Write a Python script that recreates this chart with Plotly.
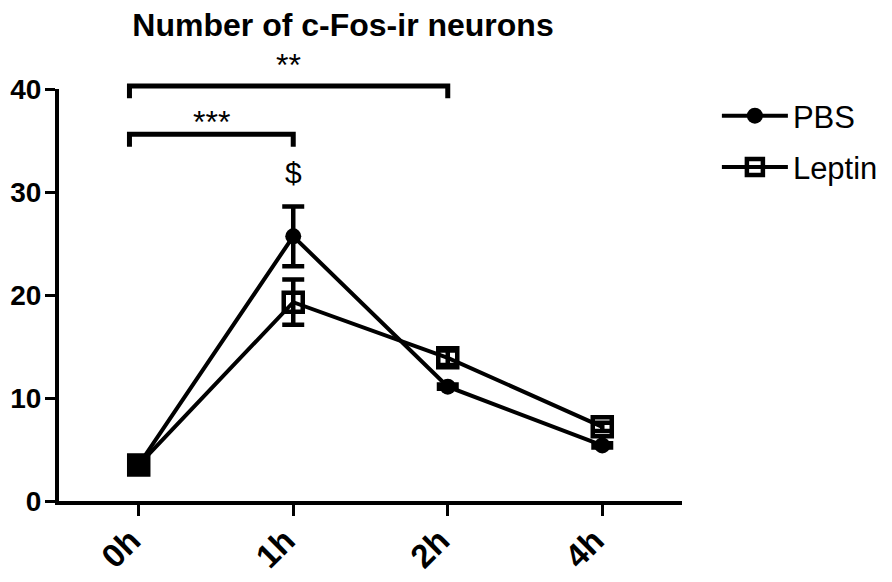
import plotly.graph_objects as go

time_labels = ['0h', '1h', '2h', '4h']
pbs_mean = [3.5, 25.7, 11.1, 5.4]
pbs_err = [0.4, 2.9, 0.2, 0.2]
leptin_mean = [3.5, 19.3, 13.9, 7.2]
leptin_err = [0.6, 2.2, 0.7, 0.4]

# comparaisons : (debut, fin, hauteur, etiquette)
brackets = [(0, 2, 40.3, '**'), (0, 1, 35.6, '***')]
dollar_point = (1, 31.9, '$')

FONT = 'Liberation Sans, Arial, sans-serif'
Y_MAX = 40
label_gap = {'**': 2.0, '***': 1.2}
x_idx = list(range(len(time_labels)))

fig = go.Figure()
fig.add_trace(go.Scatter(
    x=x_idx, y=pbs_mean, name='PBS', mode='lines+markers',
    line=dict(color='black', width=4),
    marker=dict(symbol='circle', size=16, color='black'),
    error_y=dict(type='data', array=pbs_err, color='black', thickness=4.5, width=11),
    cliponaxis=False, legendgroup='a',
))
fig.add_trace(go.Scatter(
    x=x_idx, y=leptin_mean, name='Leptin', mode='lines+markers',
    line=dict(color='black', width=4),
    marker=dict(symbol='square-open', size=19, color='black', line=dict(width=4.5, color='black')),
    error_y=dict(type='data', array=leptin_err, color='black', thickness=4.5, width=11),
    cliponaxis=False, legendgroup='b',
))
# a 0h les deux points se superposent : carre plein
fig.add_trace(go.Scatter(
    x=x_idx[:1], y=leptin_mean[:1], mode='markers', showlegend=False, hoverinfo='skip',
    marker=dict(symbol='square', size=22, color='black'), cliponaxis=False,
))

for x0, x1, h, lab in brackets:
    xs = x0 - 0.06
    fig.add_shape(type='path', xref='x', yref='paper',
                  path=f'M {xs},{(h - 1.2) / Y_MAX} L {xs},{h / Y_MAX} L {x1},{h / Y_MAX} L {x1},{(h - 1.2) / Y_MAX}',
                  line=dict(color='black', width=5))
    fig.add_annotation(x=(xs + x1) / 2, xref='x', y=(h + label_gap[lab]) / Y_MAX, yref='paper', text=lab,
                       showarrow=False, yanchor='middle',
                       font=dict(family=FONT, size=32, color='black'))

fig.add_annotation(x=dollar_point[0], y=dollar_point[1], text=dollar_point[2], showarrow=False,
                   font=dict(family=FONT, size=30, color='black'))

fig.update_layout(
    width=892, height=582,
    paper_bgcolor='white', plot_bgcolor='white',
    margin=dict(l=51, r=218, t=81, b=89, autoexpand=False),
    title=dict(text='Number of c-Fos-ir neurons', x=0.3756, xanchor='center', y=0.9708, yanchor='middle',
               automargin=False,
               font=dict(family=FONT, size=32, color='black', weight='bold')),
    legend=dict(x=1.056, y=1.0, xanchor='left', yanchor='top', tracegroupgap=8, itemwidth=66,
                font=dict(family=FONT, size=31, color='black'), bgcolor='rgba(0,0,0,0)'),
    showlegend=True,
)
fig.update_xaxes(
    tickmode='array', tickvals=x_idx, ticktext=time_labels, range=[-0.516, 3.516],
    showline=True, linecolor='black', linewidth=4, showgrid=False, zeroline=False,
    ticks='outside', ticklen=11, tickwidth=3, tickcolor='black', tickangle=-45, automargin=False,
    ticklabelshift=-8, ticklabelstandoff=-8,
    tickfont=dict(family=FONT, size=33, color='black', weight='bold'),
)
fig.update_yaxes(
    range=[0, Y_MAX], tickvals=[0, 10, 20, 30, 40],
    showline=True, linecolor='black', linewidth=4, showgrid=False, zeroline=False,
    ticks='outside', ticklen=10, tickwidth=3, tickcolor='black', automargin=False,
    ticklabelstandoff=-2,
    tickfont=dict(family=FONT, size=28, color='black', weight='bold'),
)

fig.write_html('out.html')
